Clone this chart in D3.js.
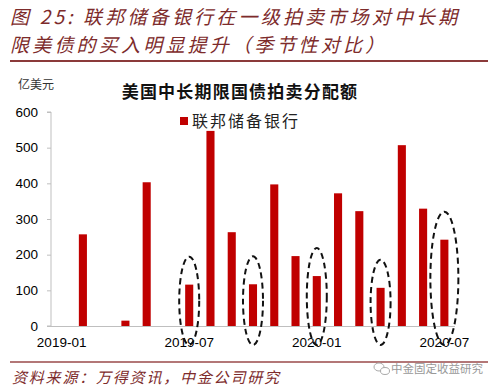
<!DOCTYPE html>
<html><head><meta charset="utf-8">
<script src="https://cdn.jsdelivr.net/npm/d3@7"></script>
<style>
html,body{margin:0;padding:0;background:#fff;}
svg{display:block;}
</style></head>
<body>
<svg id="c" width="500" height="389"></svg>
<script>
const months = ["2019-01","2019-02","2019-03","2019-04","2019-05","2019-06","2019-07","2019-08","2019-09","2019-10","2019-11","2019-12","2020-01","2020-02","2020-03","2020-04","2020-05","2020-06","2020-07"];
const fedValues = [0,257,0,15,403,0,116,547,263,117,397,196,140,372,322,107,507,329,242];
const yTicks = [0,100,200,300,400,500,600];
const xTickLabels = ["2019-01","2019-07","2020-01","2020-07"];
const highlighted = ["2019-07","2019-10","2020-01","2020-04","2020-07"];
const seriesName = "联邦储备银行";
const chartTitle = "美国中长期限国债拍卖分配额";
const unitLabel = "亿美元";
const figTitle1 = "图 25: 联邦储备银行在一级拍卖市场对中长期";
const figTitle2 = "限美债的买入明显提升（季节性对比）";
const sourceText = "资料来源：万得资讯，中金公司研究";
const watermark = "中金固定收益研究";

const svg = d3.select("#c");
const cjk = "'Noto Sans CJK SC','Noto Sans',sans-serif";
const latin = "Arial,'Liberation Sans',sans-serif";
const brown = "#7d2b2b";

// Figure header
svg.append("text").attr("x",10).attr("y",23.5).attr("font-family",cjk).attr("font-size",19)
  .attr("font-style","italic").attr("letter-spacing",3.2).attr("fill",brown).text(figTitle1);
svg.append("text").attr("x",10).attr("y",51.5).attr("font-family",cjk).attr("font-size",19)
  .attr("font-style","italic").attr("letter-spacing",3.2).attr("fill",brown).text(figTitle2);
svg.append("line").attr("x1",10).attr("x2",488).attr("y1",61).attr("y2",61)
  .attr("stroke","#8b3a3a").attr("stroke-width",2);

// Scales
const x = d3.scaleBand().domain(months).range([51,455]).paddingInner(0.62).paddingOuter(0.31);
const y = d3.scaleLinear().domain([0,600]).range([326,112]);

// Y axis
const yAxis = d3.axisLeft(y).tickValues(yTicks).tickSize(4).tickPadding(9);
const gy = svg.append("g").attr("transform","translate(51,0)").call(yAxis);
gy.select(".domain").attr("stroke","#bfbfbf").attr("d","M-4,"+y(600)+"H0V"+y(0)+"H-4");
gy.selectAll(".tick line").attr("stroke","#bfbfbf");
gy.selectAll(".tick text").attr("font-family",latin).attr("font-size",13.5).attr("fill","#000");

// X axis
const xAxis = d3.axisBottom(x).tickValues(xTickLabels).tickSize(0).tickPadding(11);
const gx = svg.append("g").attr("transform","translate(0,"+y(0)+")").call(xAxis);
gx.select(".domain").attr("stroke","#bfbfbf").attr("d","M51,0.5H455");
gx.selectAll(".tick text").attr("font-family",latin).attr("font-size",13.5).attr("fill","#000");

// Bars
svg.append("g").selectAll("rect").data(months.map((m,i)=>({m,v:fedValues[i]})).filter(d=>d.v>0))
  .join("rect")
  .attr("x",d=>x(d.m)).attr("width",x.bandwidth())
  .attr("y",d=>y(d.v)).attr("height",d=>y(0)-y(d.v))
  .attr("fill","#c00000");

// Highlight ellipses
svg.append("g").selectAll("ellipse").data(highlighted).join("ellipse")
  .attr("cx",m=>x(m)+x.bandwidth()/2)
  .attr("cy",m=>{const v=fedValues[months.indexOf(m)];return ((y(v)-28)+(y(0)+19))/2;})
  .attr("rx",(m,i)=> i===highlighted.length-1?14:10)
  .attr("ry",m=>{const v=fedValues[months.indexOf(m)];return ((y(0)+19)-(y(v)-28))/2;})
  .attr("fill","none").attr("stroke","#111").attr("stroke-width",2)
  .attr("stroke-dasharray","6,4");

// Chart title
svg.append("text").attr("x",240).attr("y",98).attr("text-anchor","middle")
  .attr("font-family",cjk).attr("font-weight","bold").attr("font-size",17).attr("letter-spacing",1.2)
  .attr("fill","#111").text(chartTitle);

// Legend
svg.append("rect").attr("x",180).attr("y",117).attr("width",8).attr("height",8).attr("fill","#c00000");
svg.append("text").attr("x",192).attr("y",127).attr("font-family",cjk).attr("font-size",16)
  .attr("letter-spacing",2).attr("fill","#222").text(seriesName);

// Unit label
svg.append("text").attr("x",18).attr("y",89).attr("font-family",cjk).attr("font-size",12)
  .attr("fill","#333").text(unitLabel);

// Source
svg.append("line").attr("x1",10).attr("x2",488).attr("y1",362).attr("y2",362)
  .attr("stroke","#9a4a4a").attr("stroke-width",1.5);
svg.append("text").attr("x",12).attr("y",383).attr("font-family",cjk).attr("font-size",15)
  .attr("font-style","italic").attr("letter-spacing",1.8).attr("fill",brown).text(sourceText);

// Watermark
const wm = svg.append("g").attr("fill","none").attr("stroke","#aaa").attr("stroke-width",1);
wm.append("ellipse").attr("cx",379).attr("cy",367).attr("rx",5).attr("ry",4);
wm.append("ellipse").attr("cx",385).attr("cy",371).attr("rx",4.5).attr("ry",3.5).attr("fill","#fff");
svg.append("text").attr("x",391).attr("y",373).attr("font-family",cjk).attr("font-size",11.5)
  .attr("fill","#999").text(watermark);
</script>
</body></html>
